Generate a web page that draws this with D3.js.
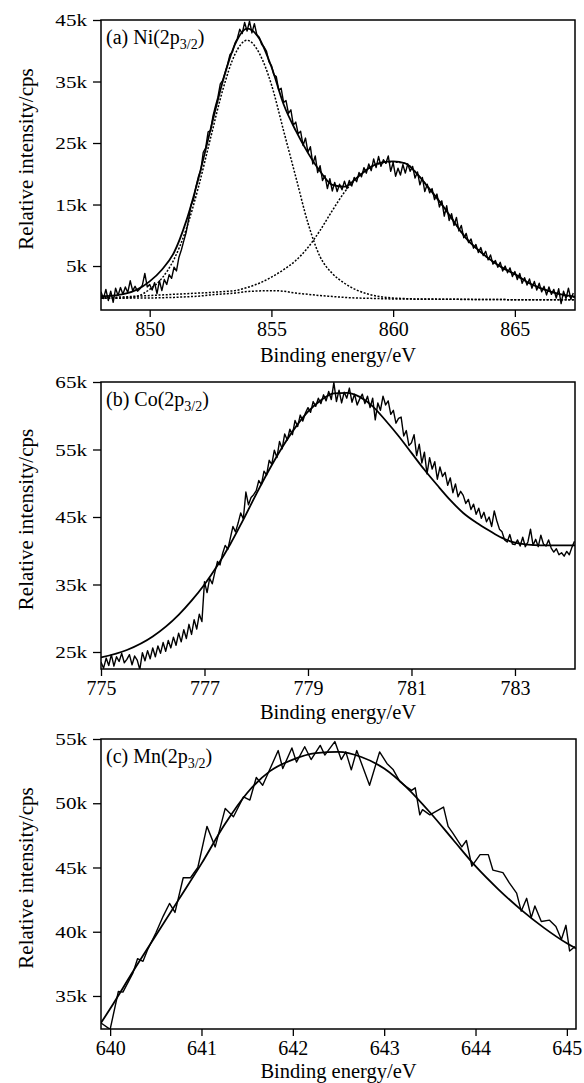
<!DOCTYPE html>
<html><head><meta charset="utf-8">
<script src="https://cdn.jsdelivr.net/npm/d3@7"></script>
<style>
body{margin:0;background:#fff}
svg{display:block}
text{font-family:"Liberation Serif","Times New Roman",serif;fill:#000}
</style>
</head><body>
<svg id="chart" width="584" height="1083"></svg>
<script>
// ---------- Panel (a) Ni(2p3/2) ----------
const niTicksX = [850, 855, 860, 865];
const niTickLabelsX = ["850", "855", "860", "865"];
const niTicksY = [45, 35, 25, 15, 5];
const niTickLabelsY = ["45k", "35k", "25k", "15k", "5k"];
const niRawStart = 848.0, niRawStep = 0.1;
const niRaw = [
  0.8,-0.3,1.2,-0.6,0.9,-0.9,1.4,0.2,1.5,0.4,1.6,0.7,2.6,1.0,1.7,0.9,1.3,1.9,3.8,1.6,
  2.0,1.1,2.3,0.5,2.6,1.0,2.8,2.0,3.6,3.0,4.8,4.2,6.4,7.6,9.1,10.5,12.6,14.9,15.8,17.9,
  19.5,20.6,23.5,24.2,26.8,27.0,29.4,31.0,32.4,34.6,35.2,36.5,37.8,39.4,39.8,41.2,42.0,43.5,42.8,44.6,
  43.2,44.8,42.9,44.4,42.6,42.2,41.0,40.6,39.9,38.2,37.6,36.1,35.8,33.6,33.9,31.6,31.9,29.8,30.4,27.9,
  28.4,26.5,26.9,24.6,25.8,23.5,24.4,21.6,22.9,20.2,21.3,18.9,19.7,17.6,19.2,17.2,18.6,17.1,18.3,17.4,
  18.8,17.6,18.9,18.0,19.4,18.7,20.2,19.5,21.0,20.1,21.6,20.5,22.4,21.0,22.8,21.2,22.3,21.7,22.9,20.4,
  21.8,19.6,20.9,19.8,21.5,20.1,21.6,20.4,21.2,19.3,20.3,18.2,19.4,17.1,18.3,16.9,17.6,15.8,16.7,14.6,
  15.6,13.1,14.8,12.4,13.5,11.6,12.9,10.7,11.6,9.6,10.3,8.8,9.4,7.9,8.5,7.2,8.0,6.7,7.4,6.0,
  6.8,5.3,5.9,4.8,5.6,4.2,5.0,3.9,4.7,3.3,4.1,2.8,3.8,2.2,3.1,1.9,2.9,1.4,2.5,1.1,
  2.2,0.8,1.7,0.3,1.6,0.4,1.2,-0.2,1.3,-1.1,0.9,-0.3,1.4,-0.4,0.6
];
const niFitE = [848,848.5,849,849.5,850,850.5,851,851.5,852,852.5,853,853.5,854,854.5,855,855.5,856,856.5,857,857.5,
  858,858.5,859,859.5,860,860.5,861,861.5,862,862.5,863,863.5,864,864.5,865,865.5,866,866.5,867,867.5];
const niEnvelope = [0.1,0.2,0.5,1.2,2.5,4.4,7.2,12.3,19.2,27.2,35.0,41.0,43.6,42.0,37.4,31.3,27.0,23.4,20.4,18.2,
  17.9,19.3,20.9,21.8,22.0,21.7,19.9,17.5,15.0,12.2,9.5,7.6,6.0,4.7,3.7,2.4,1.5,0.8,0.3,0.0];
const niMainPeak = [-0.25,-0.25,-0.2,0.1,1.2,3.0,6.1,11.0,17.8,25.8,33.6,39.4,41.7,39.6,34.5,27.0,19.5,12.0,6.5,3.8,
  2.2,1.1,0.4,0.0,-0.2,-0.3,-0.35,-0.35,-0.4,-0.4,-0.4,-0.45,-0.45,-0.45,-0.5,-0.5,-0.5,-0.5,-0.5,-0.5];
const niSatellite = [-0.2,-0.1,0.0,0.1,0.2,0.3,0.4,0.5,0.6,0.7,0.85,1.0,1.5,2.2,3.2,4.4,5.9,8.0,10.8,14.0,
  17.0,19.3,20.9,21.7,21.9,21.7,19.9,17.5,15.0,12.2,9.5,7.6,6.0,4.7,3.6,2.4,1.5,0.8,0.2,-0.1];
const niMinor = [-0.25,-0.25,-0.2,-0.2,-0.2,-0.15,-0.1,0.0,0.1,0.3,0.45,0.6,0.85,0.95,1.0,0.9,0.6,0.4,0.2,0.05,
  -0.1,-0.2,-0.25,-0.3,-0.35,-0.35,-0.4,-0.4,-0.4,-0.4,-0.45,-0.45,-0.45,-0.45,-0.5,-0.5,-0.5,-0.5,-0.5,-0.5];

// ---------- Panel (b) Co(2p3/2) ----------
const coTicksX = [775, 777, 779, 781, 783];
const coTickLabelsX = ["775", "777", "779", "781", "783"];
const coTicksY = [65, 55, 45, 35, 25];
const coTickLabelsY = ["65k", "55k", "45k", "35k", "25k"];
const coRawStart = 775.0, coRawStep = 0.05;
const coRaw = [
  23.5,22.6,24.1,23.0,24.6,22.9,24.3,23.6,24.8,23.4,23.9,24.6,23.1,24.4,23.8,22.4,24.9,23.7,25.2,24.0,
  25.6,24.3,25.9,24.8,26.4,25.1,26.7,25.6,27.2,26.0,27.8,26.5,28.3,27.0,29.1,27.6,29.8,28.4,30.6,29.5,
  35.4,33.8,35.9,35.1,36.8,38.4,37.9,39.6,40.8,40.2,41.9,43.6,42.8,44.1,45.6,44.7,48.7,46.8,47.9,48.3,
  48.9,50.4,49.8,51.8,51.2,53.4,52.8,54.9,53.8,56.2,55.1,57.3,56.4,58.0,57.2,59.3,58.4,60.1,59.2,60.4,
  61.2,60.5,62.1,61.4,62.6,61.8,63.1,62.2,63.6,62.4,64.9,62.1,63.8,61.9,63.5,62.6,64.1,62.0,63.2,61.6,
  62.5,63.2,61.8,62.9,61.2,62.6,59.4,61.9,60.8,62.9,61.6,62.2,60.2,60.8,58.9,59.6,59.8,57.0,57.8,55.6,
  56.0,57.2,54.1,55.8,53.0,54.6,51.4,53.8,52.1,53.2,50.6,52.4,51.0,51.6,49.7,50.8,48.6,49.9,48.0,48.8,
  48.2,47.0,47.6,46.1,46.9,45.4,46.3,44.8,45.7,44.3,45.0,43.6,45.9,44.4,43.2,42.8,41.6,41.3,42.4,41.0,
  40.9,41.6,40.7,42.0,40.6,41.3,43.2,40.8,41.7,40.6,42.3,41.0,40.7,41.6,40.4,39.8,40.3,39.4,39.7,39.2,
  39.9,39.4,40.5,41.4
];
const coFitE = [775,775.5,776,776.5,776.75,777,777.25,777.5,777.75,778,778.25,778.5,778.75,779,779.25,779.5,779.75,
  780,780.25,780.5,780.75,781,781.25,781.5,781.75,782,782.25,782.5,782.75,783,783.25,783.5,784,784.16];
const coFit = [24.2,25.3,27.3,30.5,32.6,35.0,37.8,41.0,44.6,48.4,52.0,55.3,58.2,60.6,62.3,63.3,63.4,
  62.8,61.4,59.3,57.0,54.5,52.0,49.7,47.5,45.6,44.2,43.0,41.9,41.2,40.9,40.8,40.8,40.8];

// ---------- Panel (c) Mn(2p3/2) ----------
const mnTicksX = [640, 641, 642, 643, 644, 645];
const mnTickLabelsX = ["640", "641", "642", "643", "644", "645"];
const mnTicksY = [55, 50, 45, 40, 35];
const mnTickLabelsY = ["55k", "50k", "45k", "40k", "35k"];
const mnRawE = [639.90,640.00,640.09,640.14,640.25,640.30,640.36,640.41,640.50,640.58,640.65,640.71,640.80,640.88,640.96,
  641.06,641.15,641.26,641.35,641.46,641.53,641.60,641.67,641.84,641.89,641.99,642.04,642.13,642.20,642.30,642.35,
  642.46,642.53,642.58,642.64,642.70,642.84,642.95,643.03,643.10,643.17,643.24,643.30,643.34,643.39,643.42,643.50,
  643.65,643.70,643.75,643.85,643.90,643.96,644.05,644.14,644.19,644.30,644.37,644.45,644.50,644.56,644.61,644.65,
  644.72,644.81,644.88,644.94,644.99,645.03,645.09];
const mnRaw = [32.9,32.4,35.35,35.3,36.8,37.9,37.7,38.6,39.9,41.2,42.2,41.5,44.2,44.2,45.0,
  48.2,46.6,49.6,48.95,50.5,50.25,52.0,51.4,54.1,52.7,54.3,53.2,54.4,53.4,54.5,53.75,
  54.8,53.4,54.0,52.6,54.1,51.4,54.0,53.1,52.6,51.7,51.3,51.0,51.2,49.1,49.5,49.1,
  49.7,48.2,47.7,46.6,47.1,45.1,46.0,46.0,44.8,44.6,43.8,43.0,41.6,42.6,41.1,42.0,
  40.8,40.9,40.4,39.4,40.5,38.5,38.85];
const mnFitE = [639.9,640,640.25,640.5,640.75,641,641.25,641.5,641.75,642,642.25,642.5,642.75,643,643.25,643.5,643.75,
  644,644.25,644.5,644.75,645,645.1];
const mnFit = [32.9,34.0,36.9,39.7,42.5,45.3,48.3,50.8,52.5,53.4,53.9,54.0,53.6,52.7,51.2,49.3,47.2,
  45.1,43.3,41.7,40.3,39.1,38.7];

const xTitle = "Binding energy/eV";
const yTitle = "Relative intensity/cps";

// ---------- drawing ----------
const svg = d3.select("#chart");

function grid(start, step, n) { return d3.range(n).map(i => +(start + i * step).toFixed(3)); }

function panel(cfg, idx) {
  const {left, right, top, bottom} = cfg.box;
  const x = d3.scaleLinear().domain(cfg.xDomain).range([left, right]);
  const y = d3.scaleLinear().domain(cfg.yDomain).range([bottom, top]);
  const g = svg.append("g");
  const clipId = "clip" + idx;
  g.append("clipPath").attr("id", clipId).append("rect")
    .attr("x", left).attr("y", top).attr("width", right - left).attr("height", bottom - top);
  const plot = g.append("g").attr("clip-path", `url(#${clipId})`);

  cfg.series.forEach(s => {
    const pts = s.x.map((e, i) => [e, s.y[i]]);
    const line = d3.line().x(d => x(d[0])).y(d => y(d[1]))
      .curve(s.kind === "raw" ? d3.curveLinear : d3.curveMonotoneX);
    const p = plot.append("path").datum(pts).attr("d", line)
      .attr("fill", "none").attr("stroke", "#000")
      .attr("stroke-linejoin", "round");
    if (s.kind === "raw") p.attr("stroke-width", 1.4);
    else if (s.kind === "fit") p.attr("stroke-width", 1.8);
    else p.attr("stroke-width", 1.5).attr("stroke-dasharray", "2,1.6");
  });

  // axes
  const ax = g.append("g").attr("transform", `translate(0,${bottom})`)
    .call(d3.axisBottom(x).tickValues(cfg.xTicks).tickFormat((d, i) => cfg.xLabels[i]).tickSize(7).tickSizeOuter(0));
  ax.select(".domain").remove();
  ax.selectAll("line").attr("stroke", "#000").attr("stroke-width", 1.3);
  ax.selectAll("text").attr("y", 26).attr("dy", null).style("font-size", "20px")
    .style("font-family", '"Liberation Serif", serif').attr("fill", "#000");

  const ay = g.append("g").attr("transform", `translate(${left},0)`)
    .call(d3.axisLeft(y).tickValues(cfg.yTicks).tickFormat((d, i) => cfg.yLabels[i]).tickSize(8).tickSizeOuter(0));
  ay.select(".domain").remove();
  ay.selectAll("line").attr("stroke", "#000").attr("stroke-width", 1.3);
  ay.selectAll("text").attr("x", -14 / 1.28).attr("dy", "0.34em")
    .attr("transform", "scale(1.28,1)")
    .style("font-size", "16.5px").style("font-family", '"Liberation Serif", serif').attr("fill", "#000");

  // frame
  g.append("rect").attr("x", left).attr("y", top).attr("width", right - left).attr("height", bottom - top)
    .attr("fill", "none").attr("stroke", "#000").attr("stroke-width", 1.5);

  // titles
  g.append("text").attr("x", (left + right) / 2).attr("y", bottom + cfg.titleGap)
    .attr("text-anchor", "middle").style("font-size", "20.5px").text(xTitle);
  const cy = (top + bottom) / 2 - 6;
  g.append("text").attr("transform", `translate(33,${cy}) rotate(-90)`)
    .attr("text-anchor", "middle").style("font-size", "21px").text(yTitle);

  // panel label
  const t = g.append("text").attr("x", left + 5).attr("y", top + 24).style("font-size", "20px");
  t.append("tspan").text(cfg.label[0]);
  t.append("tspan").attr("dy", 5).style("font-size", "14px").text(cfg.label[1]);
  t.append("tspan").attr("dy", -5).text(cfg.label[2]);
}

panel({
  box: {left: 101, right: 575, top: 20, bottom: 310}, titleGap: 52,
  xDomain: [848, 867.47], yDomain: [-2.15, 45],
  xTicks: niTicksX, xLabels: niTickLabelsX, yTicks: niTicksY, yLabels: niTickLabelsY,
  label: ["(a) Ni(2p", "3/2", ")"],
  series: [
    {kind: "dot", x: niFitE, y: niMinor},
    {kind: "dot", x: niFitE, y: niMainPeak},
    {kind: "dot", x: niFitE, y: niSatellite},
    {kind: "fit", x: niFitE, y: niEnvelope},
    {kind: "raw", x: grid(niRawStart, niRawStep, niRaw.length), y: niRaw}
  ]
}, 0);

panel({
  box: {left: 101, right: 575, top: 382, bottom: 669}, titleGap: 50,
  xDomain: [775, 784.16], yDomain: [22.48, 65],
  xTicks: coTicksX, xLabels: coTickLabelsX, yTicks: coTicksY, yLabels: coTickLabelsY,
  label: ["(b) Co(2p", "3/2", ")"],
  series: [
    {kind: "fit", x: coFitE, y: coFit},
    {kind: "raw", x: grid(coRawStart, coRawStep, coRaw.length), y: coRaw}
  ]
}, 1);

panel({
  box: {left: 101, right: 576, top: 739, bottom: 1029}, titleGap: 49,
  xDomain: [639.9, 645.1], yDomain: [32.43, 55],
  xTicks: mnTicksX, xLabels: mnTickLabelsX, yTicks: mnTicksY, yLabels: mnTickLabelsY,
  label: ["(c) Mn(2p", "3/2", ")"],
  series: [
    {kind: "fit", x: mnFitE, y: mnFit},
    {kind: "raw", x: mnRawE, y: mnRaw}
  ]
}, 2);
</script>
</body></html>
